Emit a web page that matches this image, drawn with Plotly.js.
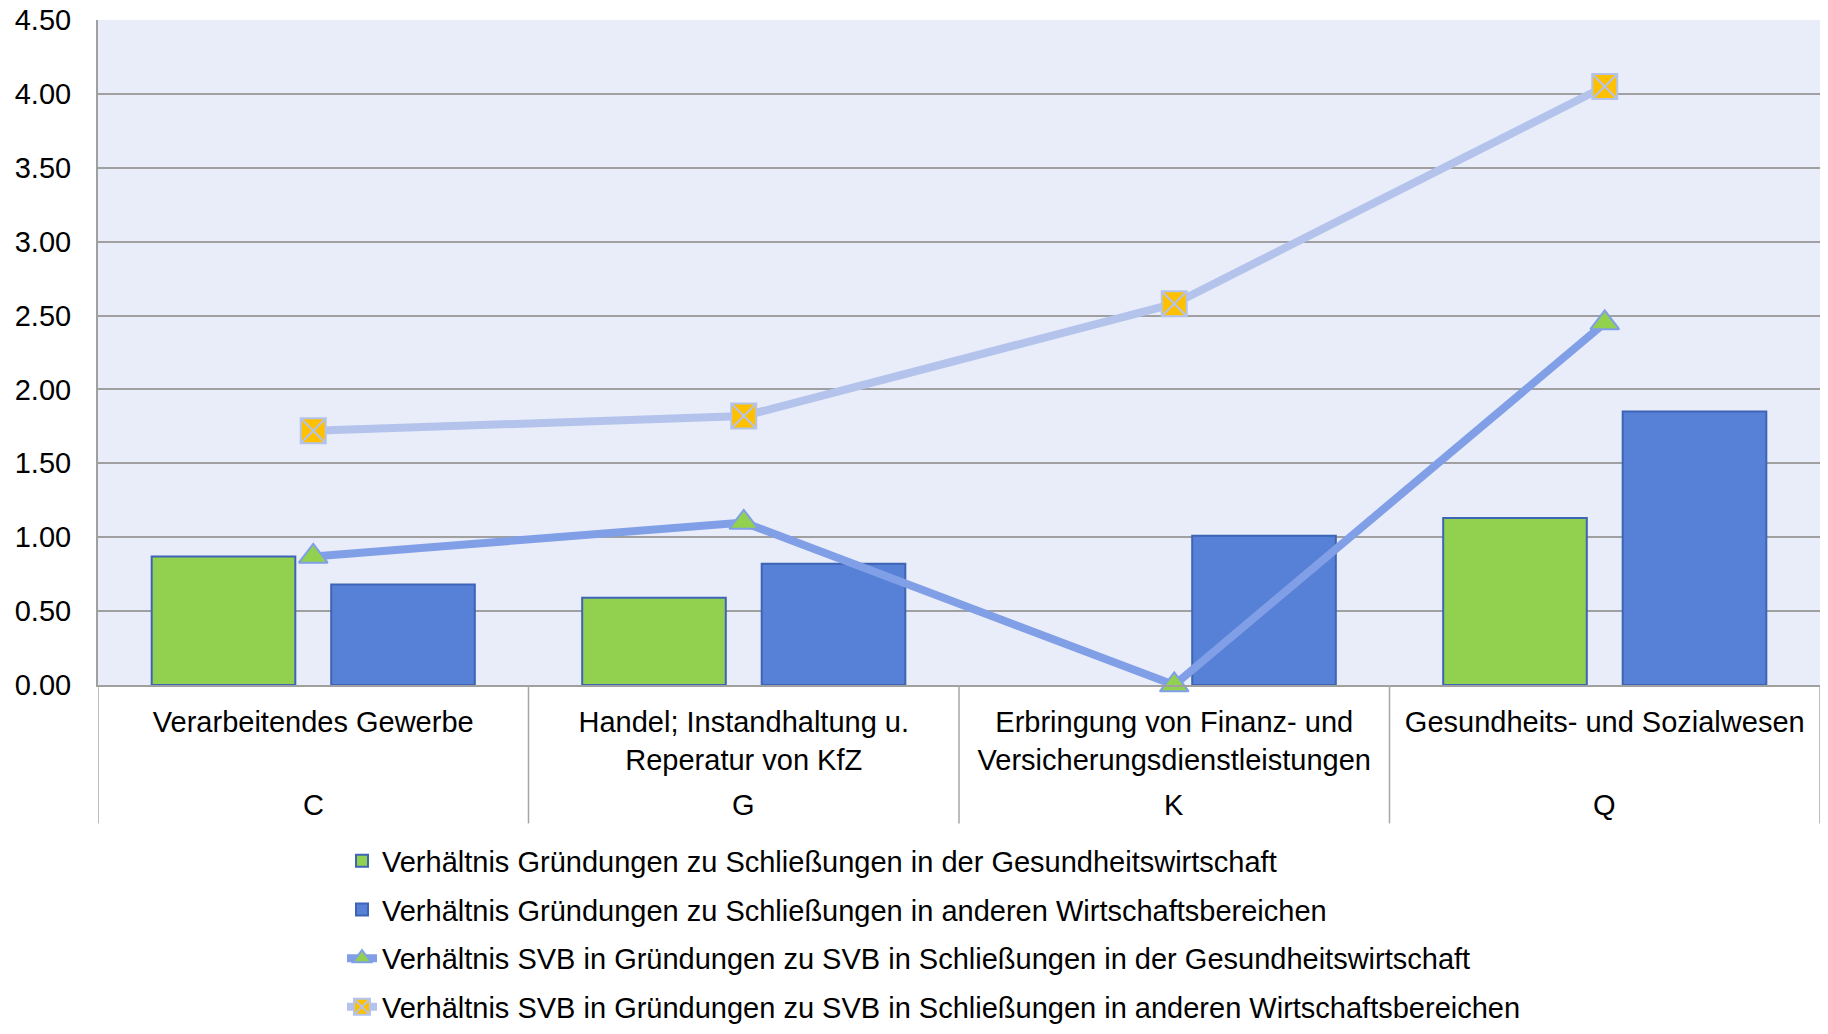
<!DOCTYPE html>
<html>
<head>
<meta charset="utf-8">
<script src="https://cdn.plot.ly/plotly-3.0.1.min.js"></script>
<style>
  html, body { margin: 0; padding: 0; background: #ffffff; }
  #chart { width: 1828px; height: 1034px; }
</style>
</head>
<body>
<div id="chart"></div>
<script>
// ---- data ----
const codes = ['C', 'G', 'K', 'Q'];
const categoryNames = [
  'Verarbeitendes Gewerbe',
  'Handel; Instandhaltung u.<br>Reperatur von KfZ',
  'Erbringung von Finanz- und<br>Versicherungsdienstleistungen',
  'Gesundheits- und Sozialwesen'
];
const seriesNames = [
  'Verhältnis Gründungen zu Schließungen in der Gesundheitswirtschaft',
  'Verhältnis Gründungen zu Schließungen in anderen Wirtschaftsbereichen',
  'Verhältnis SVB in Gründungen zu SVB in Schließungen in der Gesundheitswirtschaft',
  'Verhältnis SVB in Gründungen zu SVB in Schließungen in anderen Wirtschaftsbereichen'
];
const gruendGesund = [0.87, 0.59, 0.00, 1.13];
const gruendAndere = [0.68, 0.82, 1.01, 1.85];
const svbGesund    = [0.87, 1.10, 0.00, 2.45];
const svbAndere    = [1.72, 1.82, 2.58, 4.05];
const yTickVals = [0, 0.5, 1, 1.5, 2, 2.5, 3, 3.5, 4, 4.5];

// ---- styles ----
const FONT = 'Liberation Sans, Arial, sans-serif';
const FS = 29;
const green = '#92D050';
const blue = '#5681D6';
const barEdge = '#3E64B5';
const lineDark = '#809FE6';
const lineLight = '#B3C3EC';
const gold = '#FFC000';

// no outline on empty (zero-height) bars
const edgeWidths = (vals) => vals.map((v) => (v === 0 ? 0 : 2));

const traces = [
  {
    type: 'bar', name: seriesNames[0], x: codes, y: gruendGesund,
    marker: { color: green, line: { color: barEdge, width: edgeWidths(gruendGesund) } },
    legendgroup: 'a', hoverinfo: 'skip'
  },
  {
    type: 'bar', name: seriesNames[1], x: codes, y: gruendAndere,
    marker: { color: blue, line: { color: barEdge, width: edgeWidths(gruendAndere) } },
    legendgroup: 'b', hoverinfo: 'skip'
  },
  {
    type: 'scatter', mode: 'lines+markers', name: seriesNames[2], x: codes, y: svbGesund,
    line: { color: lineDark, width: 8 },
    marker: { symbol: 'triangle-up', size: 25, color: green, line: { color: lineDark, width: 2 } },
    legendgroup: 'c', hoverinfo: 'skip', cliponaxis: false
  },
  {
    type: 'scatter', mode: 'lines+markers', name: seriesNames[3], x: codes, y: svbAndere,
    line: { color: lineLight, width: 8 },
    marker: { symbol: 'square-x', size: 25, color: gold, line: { color: lineLight, width: 2 } },
    legendgroup: 'd', hoverinfo: 'skip', cliponaxis: false
  }
];

const plotTop = 20, plotBottom = 685.5;
const plotH = plotBottom - plotTop;
const py = (pix) => (plotBottom - pix) / plotH; // pixel y -> paper y

const shapes = [];
for (let i = 0; i <= codes.length; i++) {
  shapes.push({
    type: 'line', xref: 'x', yref: 'paper',
    x0: i - 0.5, x1: i - 0.5, y0: 0, y1: py(824),
    line: { color: '#A6A6A6', width: 1.5 }
  });
}

const annotations = codes.map((c) => ({
  xref: 'x', yref: 'paper', x: c, y: py(806),
  text: c, showarrow: false, yanchor: 'middle', xanchor: 'center',
  font: { family: FONT, size: FS, color: '#000000' }
}));

const layout = {
  width: 1828, height: 1034,
  margin: { l: 98, r: 8, t: plotTop, b: 1034 - plotBottom, pad: 0, autoexpand: false },
  paper_bgcolor: '#ffffff',
  plot_bgcolor: '#E9EDF9',
  font: { family: FONT, size: FS, color: '#000000' },
  barmode: 'group',
  bargap: 0.166,
  bargroupgap: 0.2,
  showlegend: true,
  legend: {
    x: (342 - 98) / 1722, xanchor: 'left',
    y: py(836), yanchor: 'top',
    traceorder: 'grouped', tracegroupgap: 8,
    font: { family: FONT, size: FS, color: '#000000' },
    bgcolor: 'rgba(0,0,0,0)', borderwidth: 0
  },
  xaxis: {
    type: 'category', categoryorder: 'array', categoryarray: codes,
    range: [-0.5, codes.length - 0.5],
    tickvals: codes, ticktext: categoryNames,
    tickfont: { family: FONT, size: FS, color: '#000000' },
    ticks: 'outside', ticklen: 10, tickcolor: 'rgba(0,0,0,0)',
    showgrid: false, zeroline: false,
    showline: true, linecolor: '#A0A0A0', linewidth: 2,
    fixedrange: true
  },
  yaxis: {
    range: [0, 4.5], tickvals: yTickVals, tickformat: '.2f',
    tickfont: { family: FONT, size: FS, color: '#000000' },
    ticks: 'outside', ticklen: 19, tickcolor: 'rgba(0,0,0,0)',
    showgrid: true, gridcolor: '#A0A0A0', gridwidth: 2,
    zeroline: false,
    showline: true, linecolor: '#A0A0A0', linewidth: 2,
    fixedrange: true
  },
  shapes: shapes,
  annotations: annotations,
  hovermode: false
};

Plotly.newPlot('chart', traces, layout, { displayModeBar: false, staticPlot: true });
</script>
</body>
</html>
